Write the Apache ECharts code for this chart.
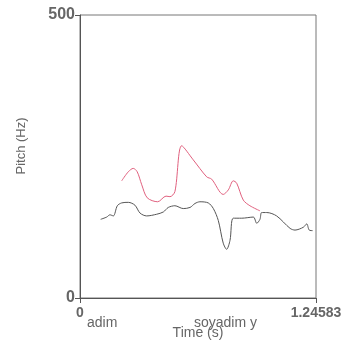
<!DOCTYPE html>
<html>
<head>
<meta charset="utf-8">
<script src="https://cdn.jsdelivr.net/npm/echarts@6/dist/echarts.min.js"></script>
<style>
  html, body { margin: 0; padding: 0; background: #fff; }
  #main { width: 350px; height: 352px; }
</style>
</head>
<body>
<div id="main"></div>
<script>
// pitch tracks (time in s, pitch in Hz)
var redTime = [0.220, 0.255, 0.281, 0.302, 0.326, 0.355, 0.410, 0.454, 0.475, 0.501, 0.537,
  0.598, 0.669, 0.695, 0.756, 0.783, 0.809, 0.827, 0.862, 0.897, 0.950];
var redPitch = [207, 223, 229, 223, 200, 177, 170, 180, 179, 188, 269,
  244, 214, 210, 183, 191, 207, 203, 173, 163, 154];

var blackTime = [0.109, 0.141, 0.158, 0.176, 0.197, 0.220, 0.255, 0.290, 0.317, 0.352, 0.405,
  0.440, 0.466, 0.501, 0.545, 0.581, 0.607, 0.633, 0.677, 0.704, 0.730, 0.756, 0.774, 0.792,
  0.809, 0.854, 0.915, 0.933, 0.950, 0.959, 0.986, 1.038, 1.109, 1.135, 1.179, 1.197, 1.210, 1.228];
var blackPitch = [139, 143, 147, 145, 163, 168, 169, 164, 150, 145, 148,
  152, 160, 163, 158, 160, 167, 170, 168, 158, 137, 97, 86, 102,
  141, 141, 143, 132, 139, 151, 151, 145, 123, 120, 125, 131, 120, 119];

var yMax = 500;
var xMax = 1.24583;

function pairs(xs, ys) {
  return xs.map(function (x, i) { return [x, ys[i]]; });
}

var myChart = echarts.init(document.getElementById('main'));
var txt = '#666';

myChart.setOption({
  animation: false,
  grid: { left: 80, top: 15, right: 34, bottom: 54, show: true, borderColor: '#777', borderWidth: 1 },
  xAxis: {
    type: 'value', min: 0, max: xMax, interval: xMax,
    name: 'Time (s)', nameLocation: 'middle', nameGap: 28,
    nameTextStyle: { color: txt, fontSize: 14, fontFamily: 'Liberation Sans' },
    axisLine: { lineStyle: { color: '#555' } },
    axisTick: { show: true, length: 5, lineStyle: { color: '#555' } },
    splitLine: { show: false },
    axisLabel: {
      color: txt, fontSize: 14, fontWeight: 'bold', margin: 8, fontFamily: 'Liberation Sans',
      showMinLabel: true, showMaxLabel: true,
      formatter: function (v) { return v === 0 ? '0' : String(xMax); }
    }
  },
  yAxis: {
    type: 'value', min: 0, max: yMax, interval: yMax,
    axisLine: { show: true, lineStyle: { color: '#555' } },
    axisTick: { show: true, length: 5, lineStyle: { color: '#555' } },
    splitLine: { show: false },
    axisLabel: { color: txt, fontSize: 16, fontWeight: 'bold', margin: 5, fontFamily: 'Liberation Sans' }
  },
  graphic: [
    { type: 'text', x: 21, y: 146, rotation: Math.PI / 2,
      style: { text: 'Pitch (Hz)', fill: txt, fontSize: 13, fontFamily: 'Liberation Sans', align: 'center', verticalAlign: 'middle' } },
    { type: 'text', x: 87, y: 316,
      style: { text: 'adim', fill: txt, fontSize: 14, fontFamily: 'Liberation Sans' } },
    { type: 'text', x: 194, y: 316,
      style: { text: 'soyadim y', fill: txt, fontSize: 14, fontFamily: 'Liberation Sans' } }
  ],
  series: [
    { type: 'line', data: pairs(redTime, redPitch), showSymbol: false, smooth: 0.3,
      lineStyle: { color: '#e0607e', width: 1 } },
    { type: 'line', data: pairs(blackTime, blackPitch), showSymbol: false, smooth: 0.3,
      lineStyle: { color: '#555', width: 1 } }
  ]
});
</script>
</body>
</html>
